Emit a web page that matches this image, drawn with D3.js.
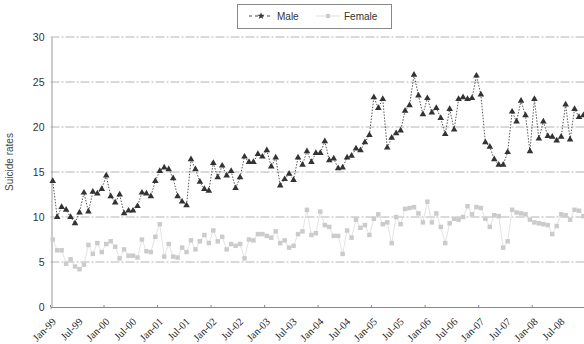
<!DOCTYPE html>
<html><head><meta charset="utf-8">
<script src="https://cdn.jsdelivr.net/npm/d3@7/dist/d3.min.js"></script>
<style>body{margin:0;background:#fff}svg{display:block}</style>
</head><body><svg id="c" width="584" height="344"></svg>
<script>
const monthNames = ["Jan","Feb","Mar","Apr","May","Jun","Jul","Aug","Sep","Oct","Nov","Dec"];
const years = ["99","00","01","02","03","04","05","06","07","08"];
const months = [];
years.forEach(y => monthNames.forEach(m => months.push(m + "-" + y)));
const tickLabels = months.filter((d, i) => i % 6 === 0);
const yTicks = [0, 5, 10, 15, 20, 25, 30];

const male = [
 14.0,10.0,11.1,10.8,10.0,9.3,10.5,12.7,10.6,12.8,12.6,13.1,
 14.6,12.3,11.6,12.5,10.4,10.7,10.7,11.2,12.7,12.6,12.3,14.0,
 15.1,15.5,15.3,14.3,12.3,11.7,11.3,16.4,15.3,13.9,13.1,12.9,
 16.0,14.4,15.7,14.6,15.1,13.2,14.4,16.7,16.1,16.1,17.0,16.7,
 17.4,15.6,16.6,13.5,14.2,14.8,14.1,16.6,15.8,17.3,16.1,17.1,
 17.1,18.4,16.3,16.5,15.4,15.5,16.6,16.8,17.6,17.4,18.3,19.1,
 23.3,22.1,23.1,17.7,18.8,19.3,19.6,21.8,22.4,25.8,23.5,21.4,
 23.2,21.6,22.1,21.0,19.2,22.0,19.7,23.1,23.3,23.1,23.2,25.7,
 23.6,18.3,17.8,16.4,15.8,15.8,17.2,21.7,20.6,22.9,21.3,17.3,
 23.1,18.7,20.6,19.0,18.9,18.5,18.9,22.5,18.6,22.0,21.1,21.3
];
const female = [
 7.5,6.3,6.3,4.8,5.3,4.5,4.2,4.7,6.9,5.9,7.1,6.1,
 7.0,7.3,6.7,5.4,6.4,5.7,5.7,5.5,7.5,6.2,6.1,7.8,
 9.2,5.6,7.0,5.6,5.5,6.6,6.1,7.4,6.4,7.3,8.0,7.1,
 8.5,7.3,7.8,6.4,7.0,6.8,7.0,5.4,7.5,7.4,8.1,8.1,
 7.9,7.7,8.4,7.1,7.4,6.6,6.8,8.1,8.4,10.8,8.0,8.2,
 10.6,9.1,8.9,7.9,7.9,5.9,8.5,7.7,9.7,8.8,9.1,8.0,
 9.8,10.3,9.2,9.4,7.1,10.0,9.2,10.9,11.0,11.1,10.4,9.4,
 11.7,9.4,10.4,8.9,7.1,9.3,9.8,9.7,10.0,11.2,10.3,11.1,
 11.0,9.8,8.9,10.2,10.1,6.6,7.3,10.8,10.5,10.4,10.3,9.7,
 9.4,9.3,9.2,9.1,8.1,9.0,10.3,10.2,9.7,10.8,10.7,10.1
];

const svg = d3.select("#c");
const plotLeft = 50.5, step = 4.46, plotTop = 37, plotBottom = 307;
const x = d3.scaleBand().domain(months).range([plotLeft, plotLeft + step * months.length]).paddingInner(0).paddingOuter(0);
const y = d3.scaleLinear().domain([0, 30]).range([plotBottom, plotTop]);
const cx = d => x(d) + x.bandwidth() / 2;

// gridlines
svg.append("g").selectAll("line").data(yTicks.filter(v => v > 0)).join("line")
  .attr("x1", plotLeft).attr("x2", 584).attr("y1", d => y(d)).attr("y2", d => y(d))
  .attr("stroke", "#b4b4b4").attr("stroke-width", 1).attr("stroke-dasharray", "9,2,2,2");

// y axis
const yAxis = svg.append("g").attr("transform", `translate(${plotLeft + 1},0)`)
  .call(d3.axisLeft(y).tickValues(yTicks).tickSize(0).tickPadding(7));
yAxis.select(".domain").attr("stroke", "#999");
yAxis.selectAll("text").attr("font-family", "Liberation Sans, Arial, sans-serif").attr("font-size", 10.5).attr("fill", "#333");

// x axis
const xAxis = svg.append("g").attr("transform", `translate(0,${plotBottom})`)
  .call(d3.axisBottom(x).tickValues(months.filter((d,i)=>i%12===0)).tickSize(2).tickFormat(""));
xAxis.select(".domain").attr("stroke", "#888");
xAxis.selectAll(".tick").attr("transform", d => `translate(${x(d)},0)`);
xAxis.selectAll(".tick line").attr("stroke", "#888").attr("y1", -2).attr("y2", 0);

svg.append("g").selectAll("text").data(tickLabels).join("text")
  .attr("transform", d => `translate(${x(d) + 1},${plotBottom + 10}) rotate(-45)`)
  .attr("text-anchor", "end").attr("dy", "0.7em")
  .attr("font-family", "Liberation Serif, Times New Roman, serif").attr("font-size", 10.5).attr("fill", "#222")
  .text(d => d);

// y label
svg.append("text").attr("transform", "translate(13,162) rotate(-90)").attr("text-anchor", "middle")
  .attr("font-family", "Liberation Sans, Arial, sans-serif").attr("font-size", 10).attr("fill", "#444")
  .text("Suicide rates");

// female series
const lineF = d3.line().x((d, i) => cx(months[i])).y(d => y(d));
svg.append("path").datum(female).attr("d", lineF).attr("fill", "none").attr("stroke", "#dcdcdc").attr("stroke-width", 0.8);
svg.append("g").selectAll("path").data(female).join("path")
  .attr("transform", (d, i) => `translate(${cx(months[i])},${y(d)})`)
  .attr("d", d3.symbol(d3.symbolSquare, 20)).attr("fill", "#cbcbcb");

// male series
const lineM = d3.line().x((d, i) => cx(months[i])).y(d => y(d));
svg.append("path").datum(male).attr("d", lineM).attr("fill", "none").attr("stroke", "#444").attr("stroke-width", 0.9).attr("stroke-dasharray", "1.5,1.5");
svg.append("g").selectAll("path").data(male).join("path")
  .attr("transform", (d, i) => `translate(${cx(months[i])},${y(d)})`)
  .attr("d", d3.symbol(d3.symbolTriangle, 19)).attr("fill", "#333");

// legend
const lg = svg.append("g");
lg.append("rect").attr("x", 237.5).attr("y", 4.5).attr("width", 154).attr("height", 24)
  .attr("fill", "#fff").attr("stroke", "#888");
lg.append("line").attr("x1", 249).attr("x2", 273).attr("y1", 16).attr("y2", 16)
  .attr("stroke", "#444").attr("stroke-dasharray", "3,3");
lg.append("path").attr("transform", "translate(261,16)").attr("d", d3.symbol(d3.symbolStar, 16)).attr("fill", "#333");
lg.append("text").attr("x", 277).attr("y", 19.5).text("Male")
  .attr("font-family", "Liberation Sans, Arial, sans-serif").attr("font-size", 10).attr("fill", "#333");
lg.append("line").attr("x1", 316).attr("x2", 340).attr("y1", 16).attr("y2", 16).attr("stroke", "#ddd");
lg.append("path").attr("transform", "translate(328,16)").attr("d", d3.symbol(d3.symbolSquare, 16)).attr("fill", "#ccc");
lg.append("text").attr("x", 344).attr("y", 19.5).text("Female")
  .attr("font-family", "Liberation Sans, Arial, sans-serif").attr("font-size", 10).attr("fill", "#333");
</script></body></html>
